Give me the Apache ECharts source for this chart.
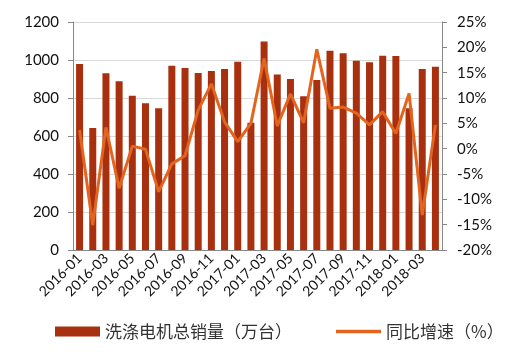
<!DOCTYPE html>
<html>
<head>
<meta charset="utf-8">
<script src="https://cdn.jsdelivr.net/npm/echarts@6/dist/echarts.min.js"></script>
<style>
  html, body { margin: 0; padding: 0; background: #fff; }
  #echarts { width: 520px; height: 354px; }
</style>
</head>
<body>
<div id="echarts"></div>
<script>
// 月份
let months = [
    '2016-01', '2016-02', '2016-03', '2016-04', '2016-05', '2016-06', '2016-07',
    '2016-08', '2016-09', '2016-10', '2016-11', '2016-12', '2017-01', '2017-02',
    '2017-03', '2017-04', '2017-05', '2017-06', '2017-07', '2017-08', '2017-09',
    '2017-10', '2017-11', '2017-12', '2018-01', '2018-02', '2018-03', '2018-04'
];
// 洗涤电机总销量（万台）
let sales = [
    979, 642, 930, 888, 812, 772, 746,
    970, 958, 932, 942, 953, 991, 670,
    1098, 924, 900, 809, 895, 1049, 1035,
    996, 988, 1023, 1021, 746, 953, 965
];
// 同比增速（%）
let growth = [
    3.7, -15.1, 4.2, -7.8, 0.5, -0.1, -8.5,
    -3.0, -1.4, 7.6, 12.8, 5.3, 1.4, 5.0,
    17.8, 4.5, 10.8, 5.1, 19.6, 8.0, 8.2,
    7.0, 4.7, 7.3, 3.0, 10.9, -13.1, 4.7
];
let leftTicks = { min: 0, max: 1200, interval: 200 };
let rightTicks = { min: -20, max: 25, interval: 5 };

let font = 'Lato, "Noto Sans CJK SC", sans-serif';

let createEchart = function (id, option) {
    let chart = echarts.init(document.getElementById(id));
    chart.setOption(option);
    return chart;
}

let comboChart = function () {
    let option = {
        animation: false,
        textStyle: { fontFamily: font },
        grid: { left: 73, right: 78, top: 22, bottom: 104 },
        legend: {
            bottom: 9,
            left: 50,
            itemGap: 44,
            itemWidth: 45,
            itemHeight: 10,
            textStyle: { fontSize: 17, color: '#333', fontFamily: '"Noto Sans CJK SC", sans-serif' },
            data: [
                { name: '洗涤电机总销量（万台）', icon: 'rect' },
                { name: '同比增速（%）', icon: 'path://M0,0 L40,0 L40,3 L0,3 Z' }
            ]
        },
        xAxis: {
            type: 'category',
            data: months,
            axisLine: { lineStyle: { color: '#888' } },
            axisTick: { interval: 1, lineStyle: { color: '#888' } },
            axisLabel: { interval: 1, rotate: 45, fontSize: 14, color: '#111', margin: 6 }
        },
        yAxis: [
            {
                type: 'value',
                min: leftTicks.min, max: leftTicks.max, interval: leftTicks.interval,
                axisLine: { show: true, lineStyle: { color: '#888' } },
                axisTick: { show: true, lineStyle: { color: '#888' } },
                axisLabel: { fontSize: 15, color: '#111', margin: 14, formatter: function (v) { return String(v); } },
                splitLine: { lineStyle: { color: '#d9d9d9' } }
            },
            {
                type: 'value',
                min: rightTicks.min, max: rightTicks.max, interval: rightTicks.interval,
                axisLine: { show: true, lineStyle: { color: '#888' } },
                axisTick: { show: true, lineStyle: { color: '#888' } },
                axisLabel: { fontSize: 15, color: '#111', margin: 15, formatter: '{value}%' },
                splitLine: { show: false }
            }
        ],
        series: [
            {
                name: '洗涤电机总销量（万台）',
                type: 'bar',
                data: sales,
                barWidth: 7,
                itemStyle: { color: '#A8300F' }
            },
            {
                name: '同比增速（%）',
                type: 'line',
                yAxisIndex: 1,
                data: growth,
                symbol: 'none',
                lineStyle: { width: 3, color: '#E2641F' },
                itemStyle: { color: '#E2641F' }
            }
        ]
    };
    return option;
}

createEchart('echarts', comboChart());
</script>
</body>
</html>
